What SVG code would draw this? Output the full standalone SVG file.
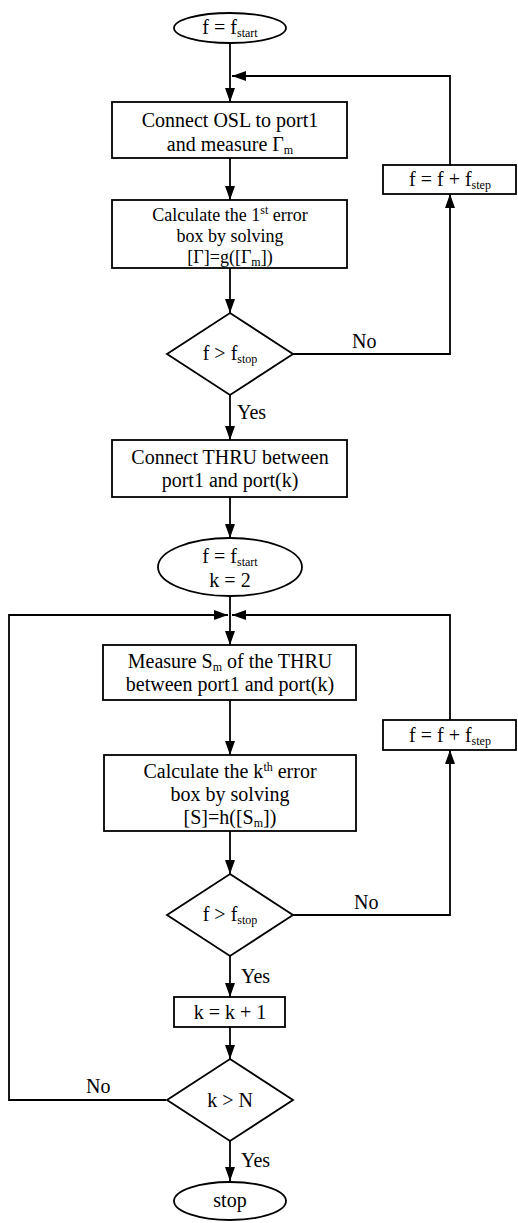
<svg xmlns="http://www.w3.org/2000/svg" width="518" height="1223" viewBox="0 0 518 1223">
<style>
.s{fill:#fff;stroke:#000;stroke-width:1.8}
.c{fill:none;stroke:#000;stroke-width:1.8}
.t{font-family:"Liberation Serif","Times New Roman",serif;font-size:20px;fill:#000;text-anchor:middle}
.t2{font-size:18px}
.l{font-family:"Liberation Serif","Times New Roman",serif;font-size:20px;fill:#000}
.sb{font-size:12px}
</style>
<defs>
<marker id="a" viewBox="0 0 14 10" refX="14" refY="5" markerWidth="14" markerHeight="10" markerUnits="userSpaceOnUse" orient="auto"><path d="M0,0 L14,5 L0,10 z" fill="#000"/></marker>
</defs>
<g id="connectors">
<line class="c" x1="230" y1="43" x2="230" y2="102" marker-end="url(#a)"/>
<polyline class="c" points="450,165 450,76 232,76" marker-end="url(#a)"/>
<line class="c" x1="230" y1="158" x2="230" y2="200" marker-end="url(#a)"/>
<line class="c" x1="230" y1="268" x2="230" y2="313" marker-end="url(#a)"/>
<polyline class="c" points="293,354 450,354 450,194" marker-end="url(#a)"/>
<line class="c" x1="230" y1="395" x2="230" y2="440" marker-end="url(#a)"/>
<line class="c" x1="230" y1="497" x2="230" y2="538" marker-end="url(#a)"/>
<line class="c" x1="230" y1="596" x2="230" y2="645" marker-end="url(#a)"/>
<polyline class="c" points="450,720 450,615 232,615" marker-end="url(#a)"/>
<line class="c" x1="230" y1="700" x2="230" y2="755" marker-end="url(#a)"/>
<line class="c" x1="230" y1="831" x2="230" y2="874" marker-end="url(#a)"/>
<polyline class="c" points="293,915 450,915 450,750" marker-end="url(#a)"/>
<line class="c" x1="230" y1="956" x2="230" y2="997" marker-end="url(#a)"/>
<line class="c" x1="230" y1="1027" x2="230" y2="1059" marker-end="url(#a)"/>
<polyline class="c" points="166,1100 9,1100 9,615 228,615" marker-end="url(#a)"/>
<line class="c" x1="230" y1="1141" x2="230" y2="1181" marker-end="url(#a)"/>
<text class="l" x="352" y="348">No</text>
<text class="l" x="237" y="419">Yes</text>
<text class="l" x="354" y="909">No</text>
<text class="l" x="241" y="983">Yes</text>
<text class="l" x="86" y="1093">No</text>
<text class="l" x="241" y="1167">Yes</text>
</g>
<g id="start1">
<ellipse class="s" cx="230" cy="28" rx="56" ry="15"/>
<text class="t" x="230" y="34">f = f<tspan class="sb" dy="3">start</tspan></text>
</g>
<g id="osl">
<rect class="s" x="112" y="102" width="235" height="56"/>
<text class="t" x="230" y="127">Connect OSL to port1</text>
<text class="t" x="230" y="151">and measure Γ<tspan class="sb" dy="3">m</tspan></text>
</g>
<g id="calc1">
<rect class="s" x="112" y="200" width="235" height="68"/>
<text class="t t2" x="230" y="221">Calculate the 1<tspan class="sb" dy="-7">st</tspan><tspan dy="7"> error</tspan></text>
<text class="t t2" x="230" y="242">box by solving</text>
<text class="t t2" x="230" y="263">[Γ]=g([Γ<tspan class="sb" dy="3">m</tspan><tspan dy="-3">])</tspan></text>
</g>
<g id="dec1">
<polygon class="s" points="230,313 293,354 230,395 167,354"/>
<text class="t" x="230" y="360">f &gt; f<tspan class="sb" dy="3">stop</tspan></text>
</g>
<g id="step1">
<rect class="s" x="383" y="165" width="133" height="29"/>
<text class="t" x="450" y="186">f = f + f<tspan class="sb" dy="3">step</tspan></text>
</g>
<g id="thru">
<rect class="s" x="112" y="440" width="235" height="57"/>
<text class="t" x="230" y="464">Connect THRU between</text>
<text class="t" x="230" y="487">port1 and port(k)</text>
</g>
<g id="start2">
<ellipse class="s" cx="230" cy="567" rx="72" ry="29"/>
<text class="t" x="230" y="563">f = f<tspan class="sb" dy="3">start</tspan></text>
<text class="t" x="230" y="587">k = 2</text>
</g>
<g id="measure">
<rect class="s" x="103" y="645" width="253" height="55"/>
<text class="t" x="230" y="668">Measure S<tspan class="sb" dy="3">m</tspan><tspan dy="-3"> of the THRU</tspan></text>
<text class="t" x="230" y="691">between port1 and port(k)</text>
</g>
<g id="step2">
<rect class="s" x="383" y="720" width="133" height="30"/>
<text class="t" x="450" y="742">f = f + f<tspan class="sb" dy="3">step</tspan></text>
</g>
<g id="calc2">
<rect class="s" x="104" y="755" width="252" height="76"/>
<text class="t" x="230" y="778">Calculate the k<tspan class="sb" dy="-7">th</tspan><tspan dy="7"> error</tspan></text>
<text class="t" x="230" y="801">box by solving</text>
<text class="t" x="230" y="824">[S]=h([S<tspan class="sb" dy="3">m</tspan><tspan dy="-3">])</tspan></text>
</g>
<g id="dec2">
<polygon class="s" points="230,874 293,915 230,956 167,915"/>
<text class="t" x="230" y="921">f &gt; f<tspan class="sb" dy="3">stop</tspan></text>
</g>
<g id="inc">
<rect class="s" x="174" y="997" width="111" height="30"/>
<text class="t" x="230" y="1019">k = k + 1</text>
</g>
<g id="dec3">
<polygon class="s" points="230,1059 293,1100 230,1141 167,1100"/>
<text class="t" x="230" y="1107">k &gt; N</text>
</g>
<g id="stop">
<ellipse class="s" cx="230" cy="1201" rx="56" ry="19"/>
<text class="t" x="230" y="1207">stop</text>
</g>
</svg>
